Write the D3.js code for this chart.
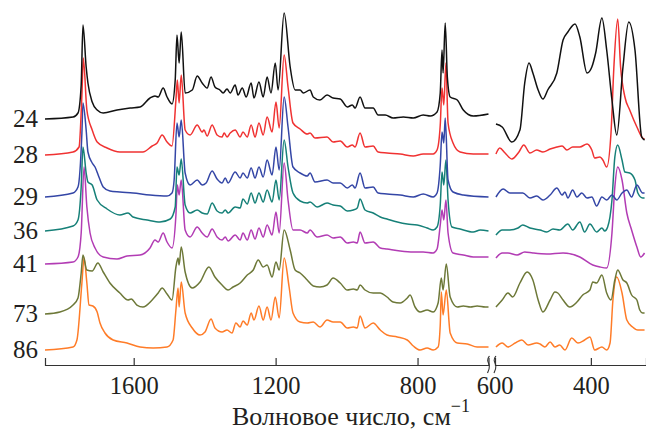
<!DOCTYPE html>
<html>
<head>
<meta charset="utf-8">
<title>IR spectra</title>
<script src="https://d3js.org/d3.v7.min.js"></script>
<style>
  body { margin: 0; background: #fff; }
  svg text { font-family: 'Liberation Serif', serif !important; fill: #231f20; }
</style>
</head>
<body>
<div id="chart"></div>
<script>
const width = 646, height = 432;

// sample labels and line colours, top to bottom
const samples = ["24", "28", "29", "36", "41", "73", "86"];
const colors = ["#111111", "#f03232", "#3446a6", "#168078", "#b23cb4", "#6d7838", "#ff7c28"];

// tick labels
const ticksLeft = [1600, 1200, 800];
const ticksRight = [400];
const breakLabel = "600";

// spectra, left part (1850-600 cm-1): [wavenumber, stacked intensity, a.u.]
const s24L = [[1850,246],[1771,248],[1757,252],[1748,280],[1743,340],[1734,298],[1729,282],[1717,263],[1703,255],[1686,252],[1647,255],[1610,257],[1582,258],[1554,267],[1540,269],[1531,268],[1517,277],[1506,268],[1492,261],[1483,285],[1478,330],[1472,302],[1466,333],[1455,272],[1435,275],[1421,289],[1407,282],[1393,277],[1382,288],[1371,278],[1357,275],[1348,272],[1337,276],[1328,272],[1314,280],[1306,270],[1294,277],[1283,268],[1269,282],[1261,267],[1247,283],[1235,268],[1224,288],[1213,272],[1201,302],[1193,275],[1176,352],[1159,298],[1145,275],[1131,275],[1122,272],[1103,275],[1094,268],[1075,265],[1055,270],[1038,267],[1018,266],[998,258],[984,260],[976,257],[962,268],[948,257],[925,257],[911,250],[891,250],[869,247],[840,248],[812,247],[784,250],[764,249],[745,253],[736,272],[731,315],[728,292],[722,342],[716,288],[708,268],[688,265],[671,255],[643,249],[600,251]];
const s28L = [[1850,210],[1771,213],[1754,218],[1746,270],[1742,307],[1732,255],[1717,235],[1703,223],[1675,217],[1639,213],[1602,213],[1574,213],[1548,219],[1534,222],[1520,230],[1506,223],[1492,219],[1481,265],[1477,285],[1472,262],[1466,290],[1455,235],[1441,230],[1421,240],[1407,233],[1402,235],[1393,229],[1379,240],[1365,230],[1351,228],[1345,232],[1337,228],[1328,232],[1314,235],[1300,228],[1292,233],[1280,228],[1269,240],[1258,228],[1247,242],[1235,230],[1224,248],[1210,233],[1199,263],[1190,237],[1176,310],[1165,278],[1151,242],[1131,236],[1111,231],[1103,232],[1089,227],[1055,228],[1038,223],[1018,224],[998,218],[984,220],[976,218],[962,232],[948,218],[925,219],[911,213],[886,212],[849,211],[812,209],[784,211],[756,211],[745,215],[736,240],[731,277],[726,260],[720,302],[714,242],[700,222],[680,213],[643,211],[600,211]];
const s29L = [[1850,168],[1771,172],[1757,178],[1746,232],[1743,262],[1734,235],[1729,213],[1717,202],[1709,198],[1698,188],[1686,178],[1667,174],[1639,173],[1602,172],[1554,170],[1506,169],[1492,172],[1486,185],[1478,242],[1472,228],[1466,245],[1455,192],[1441,180],[1421,185],[1407,180],[1396,182],[1379,194],[1365,186],[1351,182],[1342,187],[1334,182],[1314,193],[1300,187],[1292,192],[1280,187],[1269,197],[1258,187],[1247,198],[1235,188],[1224,205],[1210,190],[1199,218],[1190,195],[1176,268],[1165,238],[1151,198],[1131,192],[1111,189],[1103,192],[1089,183],[1055,185],[1038,182],[1018,182],[998,177],[984,180],[976,177],[962,192],[948,177],[925,178],[911,172],[886,171],[849,170],[812,168],[784,171],[756,168],[745,172],[736,200],[731,233],[726,222],[722,247],[714,185],[700,173],[671,170],[600,168]];
const s36L = [[1850,134],[1771,139],[1757,145],[1748,178],[1743,218],[1734,192],[1729,183],[1717,180],[1703,165],[1675,156],[1639,150],[1616,152],[1602,148],[1562,145],[1526,143],[1497,146],[1483,158],[1478,198],[1472,190],[1466,206],[1455,160],[1441,152],[1421,155],[1407,152],[1393,151],[1379,162],[1365,154],[1351,152],[1342,155],[1334,152],[1314,158],[1300,157],[1292,166],[1280,161],[1269,172],[1258,162],[1247,172],[1235,163],[1224,175],[1210,163],[1199,185],[1190,165],[1176,225],[1165,198],[1151,172],[1131,164],[1111,162],[1103,163],[1083,158],[1055,162],[1038,160],[1018,159],[998,154],[981,155],[970,157],[962,166],[948,155],[925,152],[905,148],[886,146],[857,143],[829,141],[801,140],[773,137],[756,135],[745,138],[736,160],[731,193],[726,180],[720,205],[714,165],[703,138],[680,136],[643,133],[623,135],[600,134]];
const s41L = [[1850,101],[1771,103],[1757,108],[1748,132],[1740,198],[1732,158],[1723,132],[1709,117],[1686,108],[1647,106],[1619,109],[1582,110],[1554,117],[1540,125],[1531,123],[1517,132],[1506,123],[1492,117],[1481,150],[1477,180],[1472,170],[1466,185],[1455,135],[1441,128],[1421,138],[1407,132],[1393,128],[1379,136],[1365,128],[1351,125],[1342,128],[1334,124],[1314,130],[1300,125],[1292,132],[1280,125],[1269,135],[1258,126],[1247,137],[1235,128],[1224,140],[1210,130],[1199,153],[1190,132],[1176,202],[1165,165],[1151,135],[1131,135],[1111,132],[1103,135],[1083,128],[1055,130],[1038,127],[1018,128],[998,122],[981,123],[970,122],[962,133],[948,122],[925,123],[905,117],[886,116],[849,114],[812,113],[784,113],[756,112],[745,116],[736,140],[731,155],[726,145],[720,165],[714,132],[700,112],[671,110],[643,108],[600,108]];
const s73L = [[1850,51],[1808,53],[1771,60],[1757,67],[1748,92],[1743,110],[1732,95],[1717,94],[1701,102],[1686,93],[1667,82],[1639,72],[1616,65],[1607,66],[1591,60],[1574,58],[1548,65],[1531,72],[1520,77],[1506,71],[1492,65],[1481,98],[1475,107],[1472,100],[1466,118],[1455,93],[1435,77],[1413,83],[1388,98],[1371,88],[1351,80],[1334,75],[1320,78],[1300,82],[1280,90],[1263,95],[1249,105],[1235,98],[1224,100],[1210,88],[1199,103],[1190,95],[1176,135],[1159,115],[1145,95],[1131,92],[1111,85],[1094,79],[1075,78],[1055,80],[1038,87],[1018,82],[998,75],[981,76],[970,75],[962,80],[948,75],[925,72],[905,72],[886,68],[869,63],[849,62],[829,67],[821,70],[807,58],[793,53],[773,55],[756,53],[742,62],[733,87],[728,75],[719,101],[708,68],[688,58],[671,59],[651,58],[632,59],[609,58],[600,58]];
const s86L = [[1850,15],[1771,18],[1760,25],[1746,82],[1740,107],[1732,82],[1726,60],[1715,59],[1703,53],[1695,42],[1681,32],[1658,25],[1619,22],[1582,18],[1545,17],[1506,18],[1489,25],[1481,55],[1475,77],[1472,58],[1466,83],[1455,52],[1435,37],[1413,30],[1399,33],[1382,46],[1371,37],[1351,33],[1337,35],[1323,32],[1312,42],[1300,38],[1292,44],[1280,40],[1269,52],[1261,45],[1247,59],[1235,45],[1224,58],[1213,45],[1201,68],[1190,47],[1176,107],[1162,78],[1151,52],[1131,43],[1111,42],[1094,43],[1075,38],[1055,45],[1038,43],[1018,43],[998,37],[981,38],[970,37],[962,49],[948,37],[925,42],[905,35],[886,30],[857,28],[829,25],[812,19],[793,15],[773,17],[756,15],[742,18],[736,40],[733,73],[728,50],[719,75],[708,32],[688,22],[660,21],[632,18],[609,18],[600,18]];

// spectra, right part (600-285 cm-1)
const s24R = [[598,241],[585,238],[565,223],[548,235],[538,282],[529,302],[521,292],[510,275],[500,266],[490,275],[471,292],[458,325],[448,333],[433,341],[423,328],[408,292],[398,298],[390,312],[377,347],[367,315],[356,265],[346,230],[333,298],[321,343],[308,315],[294,228],[288,225]];
const s28R = [[598,211],[590,217],[579,212],[565,206],[550,213],[540,220],[527,212],[513,215],[500,213],[485,216],[471,218],[460,219],[450,215],[438,218],[423,218],[408,221],[398,215],[392,207],[381,208],[375,205],[367,198],[358,232],[352,298],[344,346],[338,298],[329,268],[319,255],[304,238],[292,227],[288,226]];
const s29R = [[598,168],[583,176],[569,172],[542,172],[527,167],[513,169],[500,165],[485,170],[471,177],[460,170],[454,173],[448,167],[438,175],[429,168],[419,172],[408,167],[398,168],[388,159],[377,168],[367,165],[356,170],[346,165],[335,172],[325,175],[315,168],[304,180],[292,172],[288,172]];
const s36R = [[598,130],[585,135],[569,135],[552,137],[542,140],[527,137],[506,135],[492,133],[479,136],[465,135],[448,141],[438,135],[423,143],[413,133],[402,141],[388,133],[377,137],[371,134],[365,138],[356,165],[350,208],[344,220],[335,205],[329,193],[319,192],[308,185],[302,172],[292,167],[288,167]];
const s41R = [[598,107],[585,112],[573,112],[554,110],[538,113],[521,112],[492,111],[458,112],[423,108],[396,100],[381,98],[367,97],[356,132],[350,178],[344,198],[335,185],[325,152],[315,135],[304,118],[296,108],[288,112]];
const s73R = [[598,58],[585,65],[573,72],[563,68],[548,82],[533,93],[521,85],[510,65],[500,53],[485,65],[475,73],[469,72],[458,65],[444,58],[429,63],[417,70],[402,75],[396,83],[388,82],[377,90],[367,72],[358,65],[350,85],[344,95],[333,85],[325,82],[315,70],[304,65],[298,55],[292,52],[288,52]];
const s86R = [[598,18],[585,22],[573,18],[558,22],[544,25],[531,20],[513,22],[506,21],[496,18],[485,23],[475,18],[465,20],[454,15],[440,27],[427,22],[413,25],[402,28],[392,15],[377,18],[367,15],[360,22],[354,65],[346,88],[335,72],[325,45],[313,38],[302,35],[292,35],[288,35]];

const leftSeries = [s24L, s28L, s29L, s36L, s41L, s73L, s86L];
const rightSeries = [s24R, s28R, s29R, s36R, s41R, s73R, s86R];

const axisY = 365;
const serif = "'Liberation Serif', serif";

const svg = d3.select("#chart").append("svg")
  .attr("width", width).attr("height", height);

const xL = d3.scaleLinear().domain([1850, 600]).range([45, 488.5]);
const xR = d3.scaleLinear().domain([600, 285]).range([495, 646]);
const y = d3.scaleLinear().domain([0, 365]).range([axisY, 0]);

const lineL = d3.line().x(d => xL(d[0])).y(d => y(d[1])).curve(d3.curveMonotoneX);
const lineR = d3.line().x(d => xR(d[0])).y(d => y(d[1])).curve(d3.curveMonotoneX);

// draw bottom traces first so upper ones sit on top
for (let i = samples.length - 1; i >= 0; i--) {
  svg.append("path").attr("d", lineL(leftSeries[i]))
    .attr("fill", "none").attr("stroke", colors[i]).attr("stroke-width", 1.5)
    .attr("stroke-linejoin", "round");
  svg.append("path").attr("d", lineR(rightSeries[i]))
    .attr("fill", "none").attr("stroke", colors[i]).attr("stroke-width", 1.5)
    .attr("stroke-linejoin", "round");
}

// sample numbers
svg.selectAll(".lab").data(samples).enter().append("text")
  .attr("class", "lab")
  .attr("x", 38)
  .attr("y", (d, i) => y(leftSeries[i][0][1]) + 8)
  .attr("text-anchor", "end")
  .style("font-family", serif)
  .attr("font-size", 25)
  .text(d => d);

// axes
const axL = d3.axisBottom(xL).tickValues(ticksLeft).tickSize(-7).tickPadding(12).tickFormat(d3.format("d"));
const axR = d3.axisBottom(xR).tickValues(ticksRight).tickSize(-7).tickPadding(12).tickFormat(d3.format("d"));

const gL = svg.append("g").attr("transform", `translate(0,${axisY})`).call(axL);
const gR = svg.append("g").attr("transform", `translate(0,${axisY})`).call(axR);
[gL, gR].forEach(g => {
  g.attr("font-family", serif);
  g.select(".domain").attr("stroke", "#333").attr("stroke-width", 1.2);
  g.selectAll(".tick line").attr("stroke", "#333").attr("stroke-width", 1.2);
  g.selectAll(".tick text").attr("font-size", 24.5)
    .style("font-family", serif).attr("fill", "#231f20");
});

// break mark and its label
const brk = d3.line().curve(d3.curveBasis);
[488.5, 495].forEach(bx => {
  svg.append("path")
    .attr("d", brk([[bx + 1, axisY - 9], [bx - 2, axisY - 5], [bx + 2, axisY + 1], [bx - 1, axisY + 8]]))
    .attr("fill", "none").attr("stroke", "#333").attr("stroke-width", 1.1);
});
svg.append("text")
  .attr("x", 495).attr("y", axisY + 29)
  .attr("text-anchor", "middle").attr("font-size", 24.5)
  .style("font-family", serif)
  .text(breakLabel);

// axis title
const title = svg.append("text")
  .attr("x", 232).attr("y", 425)
  .attr("font-size", 26)
  .style("font-family", serif);
title.append("tspan").text("Волновое число, см");
title.append("tspan").attr("dy", -13).attr("font-size", 18).text("−1");
</script>
</body>
</html>
